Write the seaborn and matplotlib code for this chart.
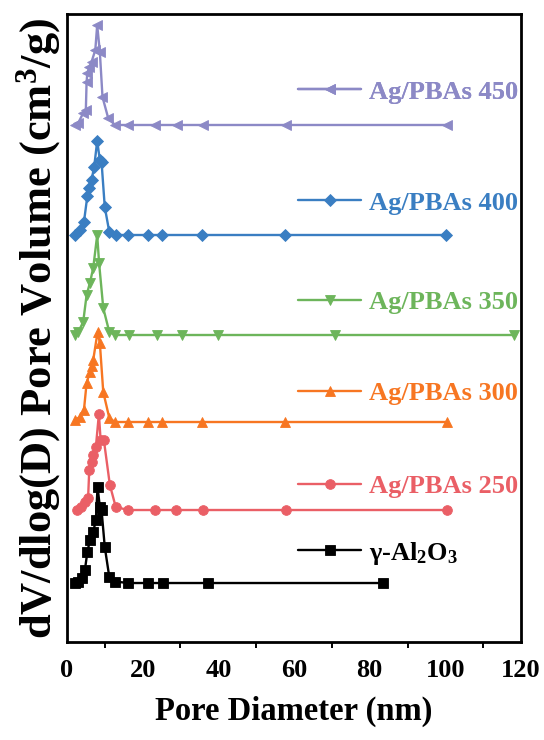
import numpy as np
import pandas as pd
import matplotlib
matplotlib.use("Agg")
import matplotlib.pyplot as plt
import seaborn as sns

# ---------------- data ----------------
labels = ["γ-Al$_2$O$_3$", "Ag/PBAs 250", "Ag/PBAs 300",
          "Ag/PBAs 350", "Ag/PBAs 400", "Ag/PBAs 450"]
colors = ["#000000", "#EA5F66", "#F77622", "#6DB55B", "#3A7EC2", "#8C89C6"]
markers = ["s", "o", "^", "v", "D", "<"]

# vertical stacking offsets (arbitrary units)
offsets = [0.59, 1.32, 2.20, 3.07, 4.07, 5.17]

x_al = [2.1, 3.0, 4.1, 4.75, 5.4, 6.1, 6.95, 7.65, 8.1, 8.7, 9.15, 10.0, 11.2,
        12.7, 16.2, 21.5, 25.4, 37.2, 83.6]
y_al = [0.0, 0.015, 0.05, 0.13, 0.31, 0.43, 0.51, 0.63, 0.96, 0.76, 0.73, 0.36,
        0.06, 0.015, 0.0, 0.0, 0.0, 0.0, 0.0]

x_250 = [2.55, 3.6, 4.75, 5.6, 5.9, 6.5, 6.95, 7.65, 8.45, 8.9, 9.76, 11.35,
         12.9, 16.2, 23.2, 28.9, 36.0, 58.0, 100.3]
y_250 = [0.0, 0.03, 0.08, 0.12, 0.40, 0.48, 0.55, 0.63, 0.96, 0.70, 0.70, 0.25,
         0.03, 0.0, 0.0, 0.0, 0.0, 0.0, 0.0]

x_300 = [2.1, 3.4, 4.5, 5.2, 6.07, 6.5, 6.95, 8.1, 8.7, 9.6, 11.2, 12.7, 16.2,
         21.5, 25.1, 35.8, 57.7, 100.3]
y_300 = [0.02, 0.05, 0.12, 0.39, 0.50, 0.56, 0.62, 0.90, 0.79, 0.30, 0.04, 0.0,
         0.0, 0.0, 0.0, 0.0, 0.0, 0.0]

x_350 = [2.1, 3.0, 4.3, 5.2, 6.07, 6.95, 8.0, 8.5, 9.6, 11.2, 12.7, 16.4, 23.7,
         30.5, 39.9, 70.7, 118.2]
y_350 = [0.0, 0.03, 0.13, 0.40, 0.52, 0.67, 1.00, 0.72, 0.27, 0.03, 0.0, 0.0,
         0.0, 0.0, 0.0, 0.0, 0.0]

x_400 = [2.1, 3.4, 4.5, 5.4, 5.9, 6.5, 7.2, 8.0, 8.7, 9.15, 10.0, 11.2, 12.9,
         16.2, 21.5, 25.1, 35.8, 57.7, 100.2]
y_400 = [0.0, 0.05, 0.13, 0.39, 0.47, 0.55, 0.68, 0.94, 0.75, 0.73, 0.28, 0.03,
         0.0, 0.0, 0.0, 0.0, 0.0, 0.0, 0.0]

x_450 = [2.1, 3.0, 4.3, 5.0, 5.2, 5.4, 5.9, 6.5, 7.5, 8.0, 8.7, 9.4, 10.9, 12.7,
         16.2, 23.2, 29.1, 36.0, 58.0, 100.3]
y_450 = [0.0, 0.02, 0.12, 0.15, 0.43, 0.52, 0.58, 0.63, 0.75, 1.00, 0.73, 0.28,
         0.07, 0.0, 0.0, 0.0, 0.0, 0.0, 0.0, 0.0]

xs = [x_al, x_250, x_300, x_350, x_400, x_450]
ys = [y_al, y_250, y_300, y_350, y_400, y_450]

x_ticks = [0, 20, 40, 60, 80, 100, 120]

# ---------------- style ----------------
sns.set_theme(style="white")
plt.rcParams["font.family"] = ["Liberation Serif", "DejaVu Serif"]
plt.rcParams["font.weight"] = "bold"
plt.rcParams["mathtext.fontset"] = "custom"
plt.rcParams["mathtext.rm"] = "Liberation Serif:bold"
plt.rcParams["mathtext.it"] = "Liberation Serif:bold"
plt.rcParams["mathtext.bf"] = "Liberation Serif:bold"
plt.rcParams["text.color"] = "black"
plt.rcParams["axes.labelcolor"] = "black"
plt.rcParams["xtick.color"] = "black"

fig = plt.figure(figsize=(5.44, 7.40), dpi=100)
ax = fig.add_axes([0.123, 0.1324, 0.835, 0.8487])

handles = []
for x, y, off, c, m in zip(xs, ys, offsets, colors, markers):
    df = pd.DataFrame({"x": x, "y": np.array(y) + off})
    sns.lineplot(data=df, x="x", y="y", ax=ax, color=c, marker=m,
                 markersize=7 if m != "D" else 6, markeredgewidth=0.6,
                 markeredgecolor=c, linewidth=1.7, sort=False,
                 estimator=None, legend=False)
    handles.append(ax.lines[-1])

ax.set_xlim(0, 120)
ax.set_ylim(0, 6.28)

# label keys (one small legend per series)
label_y = [553, 486, 393, 302, 203, 92]
for h, lab, c, ypx in zip(handles, labels, colors, label_y):
    leg = ax.legend([h], [lab], loc="center left",
                    bbox_to_anchor=((298 - 67) / 454, (642 - ypx) / 628),
                    frameon=False, handlelength=2.4, handletextpad=0.3,
                    borderpad=0, borderaxespad=0, labelcolor=c,
                    prop={"family": "Liberation Serif", "weight": "bold",
                          "size": 19})
    ax.add_artist(leg)

ax.set_xticks(x_ticks)
ax.set_xticks(np.arange(10, 120, 20), minor=True)
ax.set_yticks([])
ax.tick_params(axis="x", which="major", direction="out", length=7, width=1.6,
               color="black", labelcolor="black", labelsize=19, pad=5)
ax.tick_params(axis="x", which="minor", direction="out", length=4,
               width=1.4, color="black", bottom=True)
for lab in ax.get_xticklabels():
    lab.set_fontweight("bold")
for s in ax.spines.values():
    s.set_linewidth(2)
    s.set_color("black")

ax.set_xlabel("Pore Diameter (nm)", fontsize=23.5, fontweight="bold",
              labelpad=10, color="black")
ax.set_ylabel("dV/dlog(D) Pore Volume (cm$^3$/g)", fontsize=32,
              fontweight="bold", labelpad=3, color="black")

fig.savefig("out.png", dpi=100)
